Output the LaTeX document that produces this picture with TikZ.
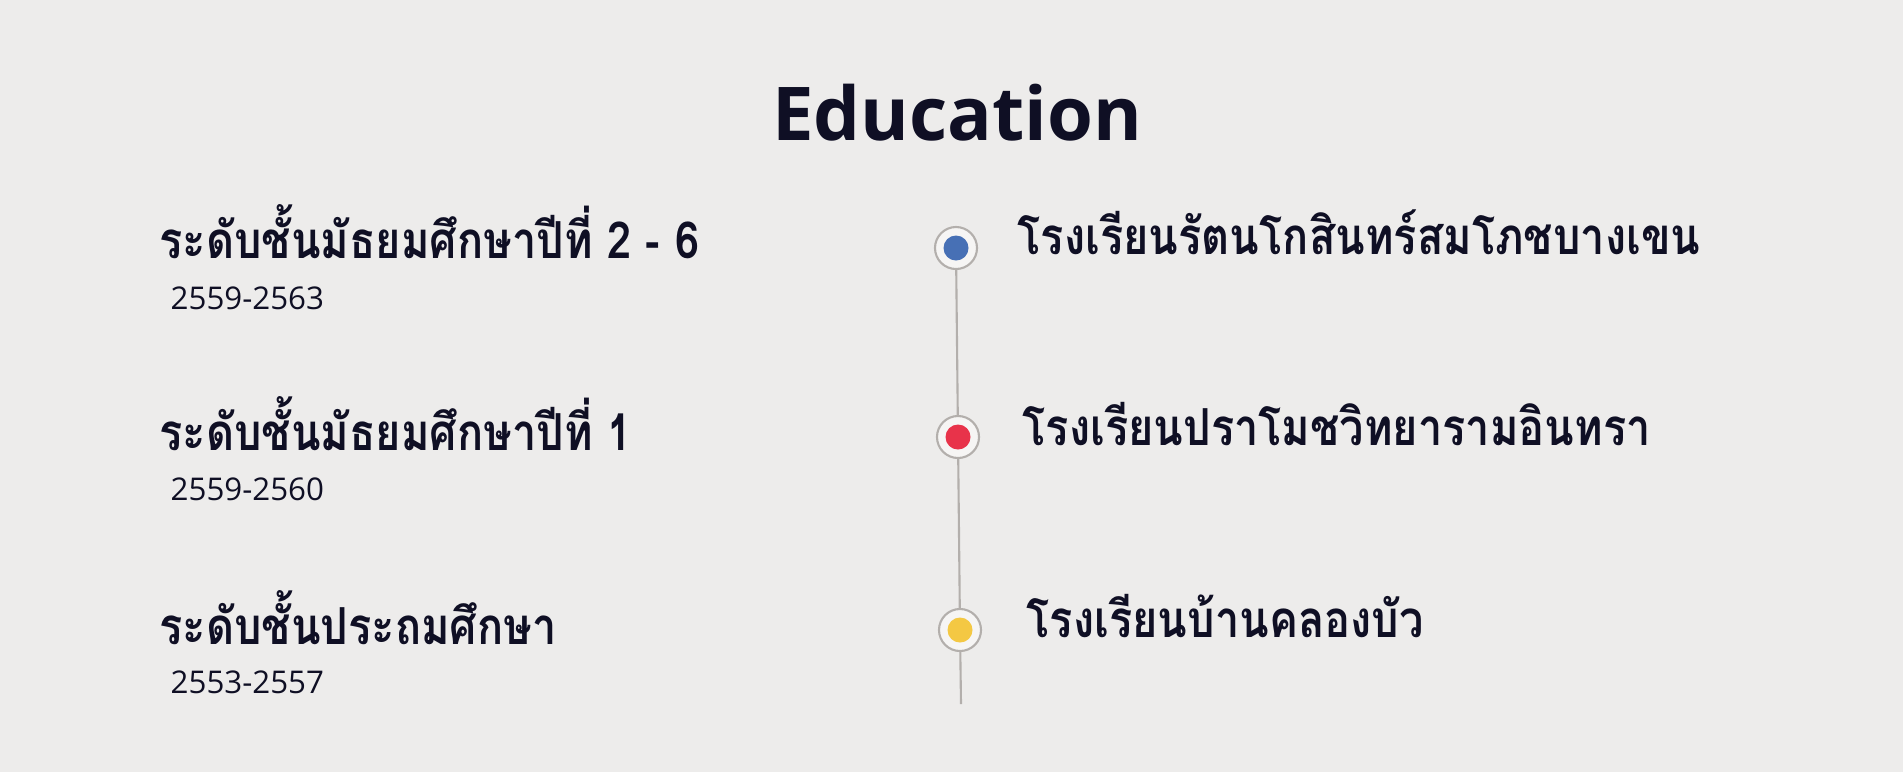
\documentclass[tikz,border=0pt]{standalone}
\usepackage{fontspec}
\setmainfont{Open Sans}
\newfontfamily\thaifont[Script=Thai,FakeStretch=0.85]{Loma}
\newfontfamily\yearfont{Open Sans}
\definecolor{bgcol}{HTML}{EDECEB}
\definecolor{ink}{HTML}{0F0F24}
\definecolor{ringcol}{HTML}{B3AFAC}
\definecolor{ringfill}{HTML}{F6F5F4}
\definecolor{dotblue}{HTML}{4770B5}
\definecolor{dotred}{HTML}{E8334A}
\definecolor{dotyellow}{HTML}{F4C843}
\begin{document}
\begin{tikzpicture}[x=0.01cm,y=-0.01cm,
    level/.style={anchor=west, inner sep=0pt, text=ink, font=\thaifont\bfseries\fontsize{14.5}{17}\selectfont},
    years/.style={anchor=west, inner sep=0pt, text=ink, font=\yearfont\fontsize{8.9}{11}\selectfont},
    school/.style={anchor=west, inner sep=0pt, text=ink, font=\thaifont\bfseries\fontsize{14.5}{17}\selectfont},
    ring/.style={circle, draw=ringcol, line width=0.6pt, fill=ringfill, minimum size=0.42cm, inner sep=0pt}]
    \fill[bgcol] (0,0) rectangle (1903,772);
    \useasboundingbox (0,0) rectangle (1903,772);
    \node[text=ink, font=\bfseries\fontsize{21.1}{25}\selectfont] (title) at (957,113) {Education};
    % left column
    \node[level] (lv1) at (159,232) {ระดับชั้นมัธยมศึกษาปีที่ 2 - 6};
    \node[years] (yr1) at (170,298) {2559-2563};
    \node[level] (lv2) at (159,424) {ระดับชั้นมัธยมศึกษาปีที่ 1};
    \node[years] (yr2) at (170,489) {2559-2560};
    \node[level] (lv3) at (159,618) {ระดับชั้นประถมศึกษา};
    \node[years] (yr3) at (170,682) {2553-2557};
    % timeline
    \node[ring] (d1) at (956,248) {};
    \node[ring] (d2) at (958,437) {};
    \node[ring] (d3) at (960,630) {};
    \coordinate (tail) at (961,704);
    \draw[ringcol, line width=0.6pt] (d1) -- (d2);
    \draw[ringcol, line width=0.6pt] (d2) -- (d3);
    \draw[ringcol, line width=0.6pt] (d3) -- (tail);
    \fill[dotblue] (d1) circle (0.125cm);
    \fill[dotred] (d2) circle (0.125cm);
    \fill[dotyellow] (d3) circle (0.125cm);
    % right column
    \node[school] (sc1) at (1017,232) {โรงเรียนรัตนโกสินทร์สมโภชบางเขน};
    \node[school] (sc2) at (1022,424) {โรงเรียนปราโมชวิทยารามอินทรา};
    \node[school] (sc3) at (1026,616) {โรงเรียนบ้านคลองบัว};
\end{tikzpicture}
\end{document}
